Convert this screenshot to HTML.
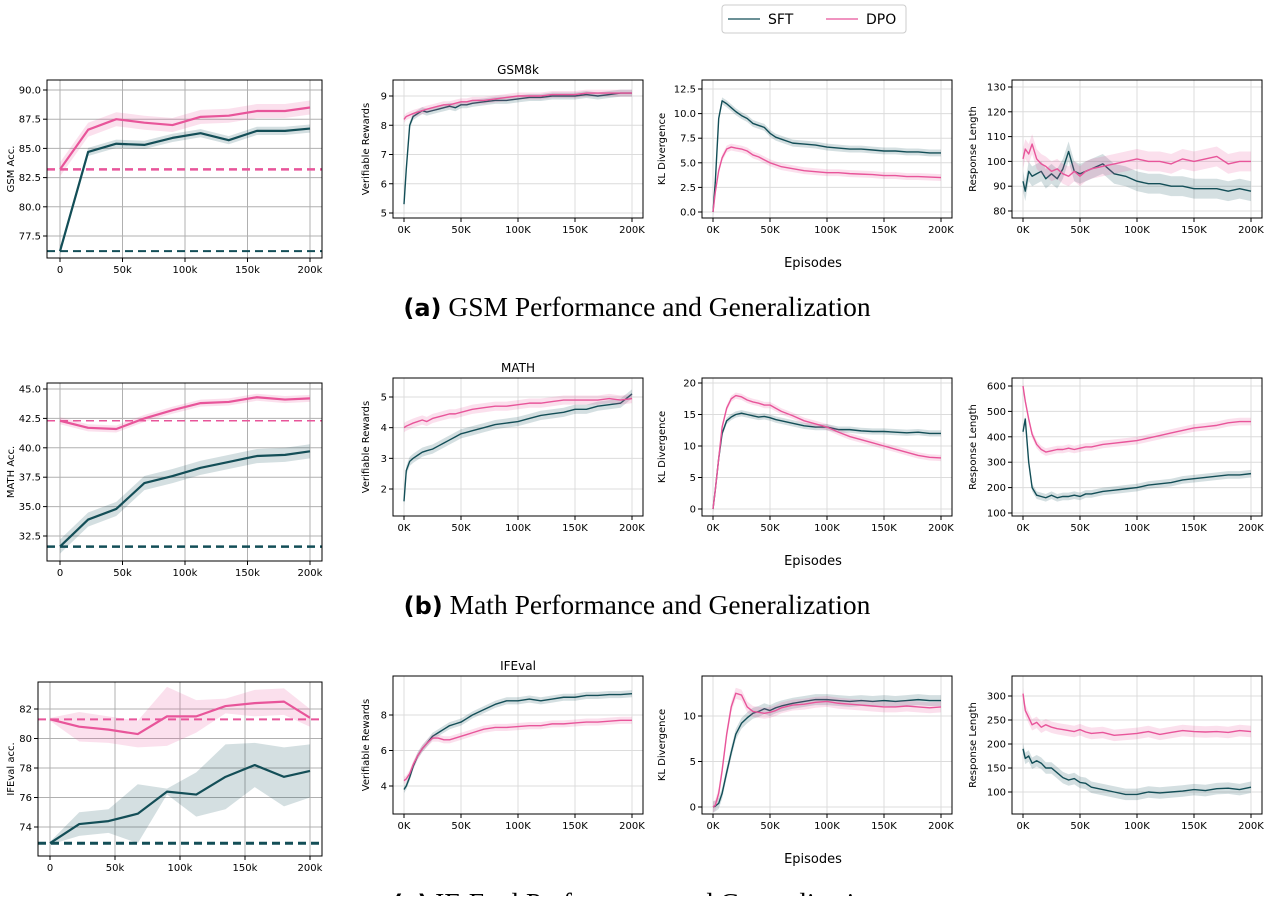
<!DOCTYPE html>
<html><head><meta charset="utf-8"><style>
body{margin:0;background:#fff;font-family:"DejaVu Sans","Liberation Sans",sans-serif;}
svg text{font-family:"DejaVu Sans","Liberation Sans",sans-serif;}
.cap{font-family:"Liberation Serif",serif;font-size:27.5px;}
</style></head><body>
<svg id="fig" width="1281" height="896" xmlns="http://www.w3.org/2000/svg">
<g>
<rect x="722" y="5" width="184" height="28" rx="3" fill="#fff" stroke="#ccc"/>
<line x1="728" y1="19" x2="760" y2="19" stroke="#134e57" stroke-width="1.2"/>
<text x="768" y="24" font-size="14">SFT</text>
<line x1="826" y1="19" x2="858" y2="19" stroke="#e8559a" stroke-width="1.2"/>
<text x="866" y="24" font-size="14">DPO</text>
</g>
<text x="637" y="316" text-anchor="middle" class="cap"><tspan font-family="DejaVu Sans" font-weight="bold" font-size="24">(a)</tspan> GSM Performance and Generalization</text>
<text x="637" y="614" text-anchor="middle" class="cap"><tspan font-family="DejaVu Sans" font-weight="bold" font-size="24">(b)</tspan> Math Performance and Generalization</text>
<text x="637" y="912" text-anchor="middle" class="cap"><tspan font-family="DejaVu Sans" font-weight="bold" font-size="24">(c)</tspan> IF-Eval Performance and Generalization</text>
<text x="813" y="267" text-anchor="middle" font-size="13">Episodes</text>
<text x="813" y="565" text-anchor="middle" font-size="13">Episodes</text>
<text x="813" y="863" text-anchor="middle" font-size="13">Episodes</text>
<text x="518" y="74" text-anchor="middle" font-size="12">GSM8k</text>
<text x="518" y="372" text-anchor="middle" font-size="12">MATH</text>
<text x="518" y="670" text-anchor="middle" font-size="12">IFEval</text>
</svg>
<script>
// ---- data ----
const accX = [0,22.5,45,67.5,90,112.5,135,157.5,180,200];
const gsmSFT = [76.2,84.7,85.4,85.3,85.9,86.3,85.7,86.5,86.5,86.7];
const gsmDPO = [83.2,86.6,87.5,87.2,87.0,87.7,87.8,88.2,88.2,88.5];
const mathSFT = [31.6,33.9,34.8,37.0,37.6,38.3,38.8,39.3,39.4,39.7];
const mathDPO = [42.3,41.7,41.6,42.5,43.2,43.8,43.9,44.3,44.1,44.2];
const ifSFT = [72.9,74.2,74.4,74.9,76.4,76.2,77.4,78.2,77.4,77.8];
const ifDPO = [81.3,80.8,80.6,80.3,81.5,81.5,82.2,82.4,82.5,81.4];
const ifSFTBand = [0.1,0.8,0.8,2.0,0.2,1.5,2.2,1.5,2.0,1.8];
const ifDPOBand = [0.1,1.0,0.9,0.9,2.0,1.1,0.5,0.9,0.9,0.6];

const epX = [0,2,5,8,12,16,20,25,30,35,40,45,50,55,60,70,80,90,100,110,120,130,140,150,160,170,180,190,200];
const gsmRewSFT = [5.3,6.5,8.0,8.3,8.4,8.5,8.45,8.5,8.55,8.6,8.65,8.6,8.7,8.7,8.75,8.8,8.85,8.85,8.9,8.95,8.95,9.0,9.0,9.0,9.05,9.0,9.05,9.1,9.1];
const gsmRewDPO = [8.2,8.3,8.35,8.4,8.45,8.5,8.55,8.6,8.65,8.7,8.7,8.75,8.8,8.8,8.85,8.85,8.9,8.95,9.0,9.0,9.0,9.05,9.05,9.05,9.1,9.1,9.1,9.1,9.1];
const gsmKLSFT = [0,3,9.5,11.3,11.0,10.6,10.2,9.8,9.5,9.0,8.8,8.6,8.0,7.6,7.4,7.0,6.9,6.8,6.6,6.5,6.4,6.4,6.3,6.2,6.2,6.1,6.1,6.0,6.0];
const gsmKLDPO = [0,2,4.2,5.5,6.4,6.6,6.5,6.4,6.2,5.8,5.6,5.3,5.0,4.8,4.6,4.4,4.2,4.1,4.0,4.0,3.9,3.85,3.8,3.7,3.7,3.6,3.6,3.55,3.5];
const gsmLenSFT = [92,88,96,94,95,96,93,95,93,97,104,96,95,96,97,99,95,94,92,91,91,90,90,89,89,89,88,89,88];
const gsmLenDPO = [101,105,103,107,101,99,98,96,97,95,94,96,94,96,97,98,99,100,101,100,100,99,101,100,101,102,99,100,100];
const mathRewSFT = [1.6,2.6,2.9,3.0,3.1,3.2,3.25,3.3,3.4,3.5,3.6,3.7,3.8,3.85,3.9,4.0,4.1,4.15,4.2,4.3,4.4,4.45,4.5,4.6,4.6,4.7,4.75,4.8,5.1];
const mathRewDPO = [4.0,4.05,4.1,4.15,4.2,4.25,4.2,4.3,4.35,4.4,4.45,4.45,4.5,4.55,4.6,4.65,4.7,4.7,4.75,4.8,4.8,4.85,4.9,4.9,4.9,4.9,4.95,4.9,4.95];
const mathKLSFT = [0,3,8,12,14,14.6,15,15.2,15,14.8,14.6,14.7,14.5,14.2,14,13.6,13.2,13.0,13.0,12.6,12.6,12.4,12.3,12.3,12.2,12.1,12.2,12.0,12.0];
const mathKLDPO = [0,3,8,13,16,17.5,18,17.8,17.3,17,16.8,16.5,16.5,16,15.5,14.8,14,13.5,13,12.2,11.5,11,10.5,10,9.5,9,8.5,8.2,8.1];
const mathLenSFT = [420,470,300,200,170,165,160,170,160,165,165,170,165,175,175,185,190,195,200,210,215,220,230,235,240,245,250,250,255];
const mathLenDPO = [600,540,470,410,370,350,340,345,350,350,355,350,355,360,360,370,375,380,385,395,405,415,425,435,440,445,455,460,460];
const ifRewSFT = [3.8,4.0,4.5,5.1,5.7,6.1,6.4,6.8,7.0,7.2,7.4,7.5,7.6,7.8,8.0,8.3,8.6,8.8,8.8,8.9,8.8,8.9,9.0,9.0,9.1,9.1,9.15,9.15,9.2];
const ifRewDPO = [4.3,4.4,4.7,5.2,5.7,6.1,6.4,6.7,6.7,6.6,6.6,6.7,6.8,6.9,7.0,7.2,7.3,7.3,7.35,7.4,7.4,7.5,7.5,7.55,7.6,7.6,7.65,7.7,7.7];
const ifKLSFT = [0,0.1,0.4,1.5,3.8,6,8,9.2,9.8,10.3,10.5,10.8,10.6,10.9,11.1,11.4,11.6,11.8,11.8,11.7,11.6,11.7,11.6,11.7,11.6,11.7,11.8,11.7,11.7];
const ifKLDPO = [0,0.2,1.5,4,8,11,12.5,12.3,11,10.5,10.4,10.3,10.4,10.6,10.9,11.2,11.3,11.5,11.6,11.4,11.3,11.2,11.1,11.0,11.0,11.1,11.0,10.9,11.0];
const ifLenSFT = [190,170,175,160,165,160,150,150,140,130,125,128,120,118,110,105,100,95,95,100,98,100,102,105,103,107,108,105,110];
const ifLenDPO = [305,270,255,240,245,235,240,235,232,230,228,226,230,225,222,224,218,220,222,226,220,224,228,226,225,226,224,228,226];

const SFT='#134e57', DPO='#e8559a';
const svg=document.getElementById('fig');
const NS='http://www.w3.org/2000/svg';
function mk(tag,at,parent){const e=document.createElementNS(NS,tag);for(const k in at)e.setAttribute(k,at[k]);(parent||svg).appendChild(e);return e;}

function panel(c){
  const g=mk('g',{});
  
  
  const B=c.box;
  const xs=v=>c.x0+(v-c.xd[0])/(c.xd[1]-c.xd[0])*(c.x1-c.x0);
  const ys=v=>c.yp[0]+(v-c.yv[0])/(c.yv[1]-c.yv[0])*(c.yp[1]-c.yp[0]);
  const gc=c.left?'#b0b0b0':'#dcdcdc';
  c.xt.forEach((t,i)=>{const x=xs(t);mk('line',{x1:x,x2:x,y1:B[1],y2:B[3],stroke:gc,'stroke-width':1},g);
    mk('line',{x1:x,x2:x,y1:B[3],y2:B[3]+4,stroke:'#000'},g);
    const tx=mk('text',{x:x,y:B[3]+15,'text-anchor':'middle','font-size':10},g);tx.textContent=c.xl[i];});
  c.yt.forEach((t,i)=>{const y=ys(t);mk('line',{x1:B[0],x2:B[2],y1:y,y2:y,stroke:gc,'stroke-width':1},g);
    mk('line',{x1:B[0]-4,x2:B[0],y1:y,y2:y,stroke:'#000'},g);
    const tx=mk('text',{x:B[0]-6,y:y+3.5,'text-anchor':'end','font-size':10},g);tx.textContent=c.yl[i];});
  const yt=mk('text',{x:0,y:0,'text-anchor':'middle','font-size':10,transform:`translate(${c.ylx},${(B[1]+B[3])/2}) rotate(-90)`},g);yt.textContent=c.ytitle;
  if(c.base){c.base.forEach((b,i)=>{const y=ys(b[0]);mk('line',{x1:B[0],x2:B[2],y1:y,y2:y,stroke:b[1],'stroke-width':b[2],'stroke-dasharray':'8,5'},g);});}
  c.series.forEach(s=>{
    const bw=i=>Array.isArray(s.band)?s.band[i]:s.band;
    const pts=s.v.map((v,i)=>[xs(c.xv[i]),ys(v)]);
    const up=s.v.map((v,i)=>xs(c.xv[i])+','+ys(v+bw(i)));
    const dn=s.v.map((v,i)=>xs(c.xv[i])+','+ys(v-bw(i))).reverse();
    const band=mk('polygon',{points:up.concat(dn).join(' '),fill:s.col,'fill-opacity':0.18},g);
    
    
    const ln=mk('polyline',{points:pts.map(p=>p.join(',')).join(' '),fill:'none',stroke:s.col,'stroke-width':c.left?2.2:1.4,'stroke-linejoin':'round'},g);
    
    
  });
  mk('rect',{x:B[0],y:B[1],width:B[2]-B[0],height:B[3]-B[1],fill:'none',stroke:'#000','stroke-width':1},g);
}
const epT=[0,50,100,150,200], epL=['0K','50K','100K','150K','200K'];
const acT=[0,50,100,150,200], acL=['0','50k','100k','150k','200k'];
const rows=[0,298,596];
panel({name:'gsm-acc-panel',left:true,box:[47,80,322,258],x0:60,x1:310,xd:[0,200],xt:acT,xl:acL,xv:accX,
 yv:[90,77.5],yp:[90,236],yt:[77.5,80,82.5,85,87.5,90],yl:['77.5','80.0','82.5','85.0','87.5','90.0'],ytitle:'GSM Acc.',ylx:14,
 base:[[83.2,DPO,2.5],[76.2,SFT,2]],series:[{name:'gsm-acc-sft',v:gsmSFT,col:SFT,band:0.35},{name:'gsm-acc-dpo',v:gsmDPO,col:DPO,band:0.6}]});
panel({name:'math-acc-panel',left:true,box:[47,383,322,561],x0:60,x1:310,xd:[0,200],xt:acT,xl:acL,xv:accX,
 yv:[45,32.5],yp:[389,536],yt:[32.5,35,37.5,40,42.5,45],yl:['32.5','35.0','37.5','40.0','42.5','45.0'],ytitle:'MATH Acc.',ylx:14,
 base:[[42.3,DPO,1.6],[31.6,SFT,2.5]],series:[{name:'math-acc-sft',v:mathSFT,col:SFT,band:0.6},{name:'math-acc-dpo',v:mathDPO,col:DPO,band:0.3}]});
panel({name:'ifeval-acc-panel',left:true,box:[38,682,322,856],x0:50,x1:310,xd:[0,200],xt:acT,xl:acL,xv:accX,
 yv:[82,74],yp:[709,827],yt:[74,76,78,80,82],yl:['74','76','78','80','82'],ytitle:'IFEval acc.',ylx:14,
 base:[[81.3,DPO,2],[72.9,SFT,3]],series:[{name:'ifeval-acc-sft',v:ifSFT,col:SFT,band:ifSFTBand},{name:'ifeval-acc-dpo',v:ifDPO,col:DPO,band:ifDPOBand}]});
const cols=[{x:393,ylx:369},{x:702,ylx:665},{x:1012,ylx:976}];
const R=[
 [{n:'gsm-rewards',v:[9,5],p:[96,213],t:[5,6,7,8,9],l:['5','6','7','8','9'],tt:'Verifiable Rewards',s:gsmRewSFT,d:gsmRewDPO,b:0.12},
  {n:'gsm-kl',v:[12.5,0],p:[89,212],t:[0,2.5,5,7.5,10,12.5],l:['0.0','2.5','5.0','7.5','10.0','12.5'],tt:'KL Divergence',s:gsmKLSFT,d:gsmKLDPO,b:0.35},
  {n:'gsm-length',v:[130,80],p:[87,211],t:[80,90,100,110,120,130],l:['80','90','100','110','120','130'],tt:'Response Length',s:gsmLenSFT,d:gsmLenDPO,b:4}],
 [{n:'math-rewards',v:[5,2],p:[397,489],t:[2,3,4,5],l:['2','3','4','5'],tt:'Verifiable Rewards',s:mathRewSFT,d:mathRewDPO,b:0.15},
  {n:'math-kl',v:[20,0],p:[383,509],t:[0,5,10,15,20],l:['0','5','10','15','20'],tt:'KL Divergence',s:mathKLSFT,d:mathKLDPO,b:0.5},
  {n:'math-length',v:[600,100],p:[386,513],t:[100,200,300,400,500,600],l:['100','200','300','400','500','600'],tt:'Response Length',s:mathLenSFT,d:mathLenDPO,b:15}],
 [{n:'ifeval-rewards',v:[8,4],p:[715,786],t:[4,6,8],l:['4','6','8'],tt:'Verifiable Rewards',s:ifRewSFT,d:ifRewDPO,b:0.2},
  {n:'ifeval-kl',v:[10,0],p:[716,807],t:[0,5,10],l:['0','5','10'],tt:'KL Divergence',s:ifKLSFT,d:ifKLDPO,b:0.6},
  {n:'ifeval-length',v:[300,100],p:[696,792],t:[100,150,200,250,300],l:['100','150','200','250','300'],tt:'Response Length',s:ifLenSFT,d:ifLenDPO,b:12}]];
R.forEach((row,ri)=>row.forEach((p,ci)=>{
  const X=cols[ci].x, top=80+rows[ri], bot=218+rows[ri];
  panel({name:p.n+'-panel',box:[X,top,X+250,bot],x0:X+11,x1:X+239,xd:[0,200],xt:epT,xl:epL,xv:epX,
   yv:p.v,yp:p.p,yt:p.t,yl:p.l,ytitle:p.tt,ylx:cols[ci].ylx,
   series:[{name:p.n+'-sft',v:p.s,col:SFT,band:p.b},{name:p.n+'-dpo',v:p.d,col:DPO,band:p.b}]});
}));
</script>
</body></html>
